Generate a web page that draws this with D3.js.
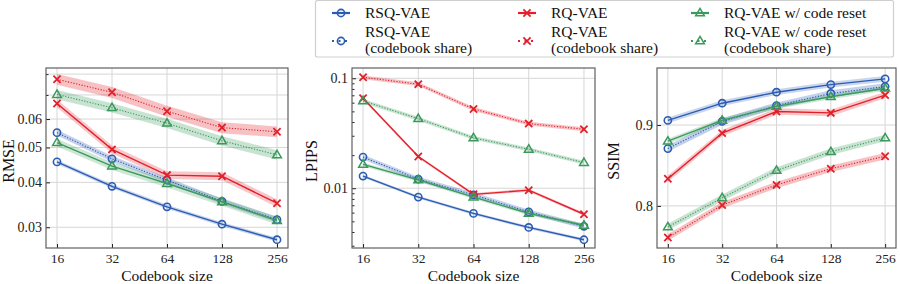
<!DOCTYPE html>
<html>
<head>
<meta charset="utf-8">
<script src="https://cdn.jsdelivr.net/npm/d3@7"></script>
<style>
  body { margin: 0; background: #fff; }
  text { font-family: "Liberation Serif", "Times New Roman", Times, "DejaVu Serif", serif; }
</style>
</head>
<body>
<svg id="chart" width="900" height="284"></svg>
<script>
// codebook sizes (x axis)
let sizes = [16, 32, 64, 128, 256];

// RMSE
let rmseRsq       = [0.0456, 0.0390, 0.0342, 0.0306, 0.0277];
let rmseRsqShare  = [0.0550, 0.0465, 0.0406, 0.0354, 0.0315];
let rmseRq        = [0.0663, 0.0494, 0.0419, 0.0416, 0.0350];
let rmseRqShare   = [0.0774, 0.0712, 0.0631, 0.0568, 0.0553];
let rmseReset     = [0.0516, 0.0444, 0.0397, 0.0353, 0.0313];
let rmseResetShare= [0.0702, 0.0645, 0.0584, 0.0522, 0.0477];
let rmseSpread    = [0.013, 0.018, 0.025, 0.035, 0.025, 0.03];   // relative

// LPIPS
let lpipsRsq       = [0.0129, 0.0083, 0.0059, 0.0044, 0.0034];
let lpipsRsqShare  = [0.0192, 0.0121, 0.0087, 0.0061, 0.0045];
let lpipsRq        = [0.0657, 0.0194, 0.0088, 0.0096, 0.0058];
let lpipsRqShare   = [0.1020, 0.0884, 0.0526, 0.0387, 0.0344];
let lpipsReset     = [0.0165, 0.0119, 0.0083, 0.0059, 0.0046];
let lpipsResetShare= [0.0622, 0.0429, 0.0287, 0.0226, 0.0171];
let lpipsSpread    = [0.03, 0.05, 0.03, 0.04, 0.04, 0.04];      // relative

// SSIM
let ssimRsq       = [0.9057, 0.9270, 0.9406, 0.9500, 0.9570];
let ssimRsqShare  = [0.8709, 0.9044, 0.9240, 0.9390, 0.9475];
let ssimRq        = [0.8336, 0.8900, 0.9167, 0.9150, 0.9370];
let ssimRqShare   = [0.7610, 0.8010, 0.8260, 0.8460, 0.8614];
let ssimReset     = [0.8800, 0.9057, 0.9230, 0.9350, 0.9455];
let ssimResetShare= [0.7740, 0.8100, 0.8438, 0.8670, 0.8840];
let ssimSpread    = [0.0035, 0.004, 0.004, 0.004, 0.003, 0.004]; // absolute

// tick labels
let rmseTicks = [0.03, 0.04, 0.05, 0.06];
let rmseMinor = [0.07, 0.08];
let lpipsTicks = [0.01, 0.1];
let lpipsMinor = [0.003, 0.004, 0.005, 0.006, 0.007, 0.008, 0.009,
  0.02, 0.03, 0.04, 0.05, 0.06, 0.07, 0.08, 0.09];
let ssimTicks = [0.8, 0.9];

let colors = ["#2a5bb5", "#2a5bb5", "#e3202a", "#e3202a", "#3a9a5b", "#3a9a5b"];
let markers = ["circle", "circle", "cross", "cross", "triangle", "triangle"];
let dotted = [false, true, false, true, false, true];

let svg = d3.select("#chart");
let plotTop = 68, h = 180;
let serif = '"Liberation Serif", "Times New Roman", Times, "DejaVu Serif", serif';

let panels = [
  { left: 46, width: 242, label: "RMSE", labelOff: 32, type: "log",
    data: [rmseRsq, rmseRsqShare, rmseRq, rmseRqShare, rmseReset, rmseResetShare],
    spread: rmseSpread, domain: [0.02627, 0.0832], ticks: rmseTicks, minor: rmseMinor,
    grid: rmseTicks.concat(rmseMinor), fmt: d3.format(".2f") },
  { left: 352, width: 243, label: "LPIPS", labelOff: 35, type: "log",
    data: [lpipsRsq, lpipsRsqShare, lpipsRq, lpipsRqShare, lpipsReset, lpipsResetShare],
    spread: lpipsSpread, domain: [0.00286, 0.124], ticks: lpipsTicks, minor: lpipsMinor,
    grid: lpipsTicks, fmt: d => d == 0.1 ? "0.1" : "0.01" },
  { left: 657, width: 239, label: "SSIM", labelOff: 38, type: "lin",
    data: [ssimRsq, ssimRsqShare, ssimRq, ssimRqShare, ssimReset, ssimResetShare],
    spread: ssimSpread, domain: [0.748, 0.9705], ticks: ssimTicks, minor: [],
    grid: ssimTicks, fmt: d3.format(".1f") }
];

function drawMarker(g, kind, x, y, color) {
  if (kind == "circle") {
    g.append("circle").attr("cx", x).attr("cy", y).attr("r", 3.6)
      .attr("fill", "none").attr("stroke", color).attr("stroke-width", 1.6);
  } else if (kind == "cross") {
    let s = 3.6;
    g.append("path").attr("d", `M${x-s},${y-s}L${x+s},${y+s}M${x-s},${y+s}L${x+s},${y-s}`)
      .attr("stroke", color).attr("stroke-width", 1.8).attr("fill", "none");
  } else {
    let s = 4.6;
    g.append("path").attr("d", `M${x},${y-s}L${x+s*0.95},${y+s*0.62}L${x-s*0.95},${y+s*0.62}Z`)
      .attr("stroke", color).attr("stroke-width", 1.5).attr("fill", "none");
  }
}

panels.forEach(function(p) {
  let g = svg.append("g").attr("transform", "translate(" + p.left + "," + plotTop + ")");
  let w = p.width;

  let xScale = d3.scaleLog().base(2).domain([16 / Math.pow(2, 0.2), 256 * Math.pow(2, 0.2)]).range([0, w]);
  let yScale = (p.type == "log" ? d3.scaleLog() : d3.scaleLinear()).domain(p.domain).range([h, 0]);

  // grid
  g.append("g").selectAll("line").data(sizes).join("line")
    .attr("x1", d => xScale(d)).attr("x2", d => xScale(d)).attr("y1", 0).attr("y2", h)
    .attr("stroke", "#d6d6d6").attr("stroke-width", 1);
  g.append("g").selectAll("line").data(p.grid).join("line")
    .attr("y1", d => yScale(d)).attr("y2", d => yScale(d)).attr("x1", 0).attr("x2", w)
    .attr("stroke", "#d6d6d6").attr("stroke-width", 1);

  // bands
  let series = p.data.map((vals, i) => vals.map((v, j) => {
    let lo, hi;
    if (p.type == "log") { lo = v * (1 - p.spread[i]); hi = v * (1 + p.spread[i]); }
    else { lo = v - p.spread[i]; hi = v + p.spread[i]; }
    return { x: sizes[j], v: v, lo: lo, hi: hi };
  }));

  let area = d3.area().x(d => xScale(d.x)).y0(d => yScale(d.lo)).y1(d => yScale(d.hi));
  let line = d3.line().x(d => xScale(d.x)).y(d => yScale(d.v));

  series.forEach(function(s, i) {
    g.append("path").datum(s).attr("d", area)
      .attr("fill", colors[i]).attr("fill-opacity", dotted[i] ? 0.28 : 0.25);
  });
  series.forEach(function(s, i) {
    g.append("path").datum(s).attr("d", line).attr("fill", "none")
      .attr("stroke", colors[i])
      .attr("stroke-width", dotted[i] ? 1.1 : 1.4)
      .attr("stroke-dasharray", dotted[i] ? "1.2,1.6" : null);
    s.forEach(d => drawMarker(g, markers[i], xScale(d.x), yScale(d.v), colors[i]));
  });

  // axes
  let xAxis = d3.axisBottom(xScale).tickValues(sizes).tickFormat(d3.format("d"))
    .tickSize(-4).tickPadding(5);
  let xg = g.append("g").attr("transform", "translate(0," + h + ")").call(xAxis);
  xg.attr("font-family", serif);
  xg.select(".domain").remove();
  xg.selectAll("text").attr("font-size", 13.5).attr("fill", "#222");
  xg.selectAll("line").attr("stroke", "#222");

  let yAxis = d3.axisLeft(yScale).tickValues(p.ticks).tickFormat(p.fmt).tickSize(-4).tickPadding(4);
  let yg = g.append("g").call(yAxis);
  yg.attr("font-family", serif);
  yg.select(".domain").remove();
  yg.selectAll("text").attr("font-size", 14).attr("fill", "#222");
  yg.selectAll("line").attr("stroke", "#222");

  if (p.minor.length) {
    let ym = g.append("g").call(d3.axisLeft(yScale).tickValues(p.minor).tickFormat("").tickSize(-2.5));
    ym.select(".domain").remove();
    ym.selectAll("line").attr("stroke", "#222");
  }

  // frame
  g.append("rect").attr("width", w).attr("height", h)
    .attr("fill", "none").attr("stroke", "#606060").attr("stroke-width", 1.2);

  // labels
  g.append("text").attr("x", w / 2).attr("y", h + 33).attr("text-anchor", "middle")
    .attr("font-family", serif).attr("font-size", 15.5).attr("fill", "#111").text("Codebook size");
  g.append("text").attr("transform", "translate(" + (-p.labelOff) + "," + (h / 2 + 3) + ") rotate(-90)")
    .attr("text-anchor", "middle").attr("font-family", serif).attr("font-size", 16)
    .attr("fill", "#111").text(p.label);
});

// legend
let legend = svg.append("g").attr("font-family", serif);
legend.append("rect").attr("x", 315.5).attr("y", 0.5).attr("width", 578).attr("height", 56.5)
  .attr("rx", 2).attr("fill", "#fff").attr("stroke", "#cfcfcf").attr("stroke-width", 1.2);

let legendCols = [332, 518, 691];
let legendItems = [
  { col: 0, row: 0, i: 0, lines: ["RSQ-VAE"] },
  { col: 0, row: 1, i: 1, lines: ["RSQ-VAE", "(codebook share)"] },
  { col: 1, row: 0, i: 2, lines: ["RQ-VAE"] },
  { col: 1, row: 1, i: 3, lines: ["RQ-VAE", "(codebook share)"] },
  { col: 2, row: 0, i: 4, lines: ["RQ-VAE w/ code reset"] },
  { col: 2, row: 1, i: 5, lines: ["RQ-VAE w/ code reset", "(codebook share)"] }
];
legendItems.forEach(function(it) {
  let x0 = legendCols[it.col];
  let cy = it.row == 0 ? 13 : 41;
  let i = it.i;
  legend.append("line").attr("x1", x0).attr("x2", x0 + 18).attr("y1", cy).attr("y2", cy)
    .attr("stroke", colors[i]).attr("stroke-width", dotted[i] ? 2 : 2.2)
    .attr("stroke-dasharray", dotted[i] ? "2,4.5" : null);
  drawMarker(legend, markers[i], x0 + 9, cy, colors[i]);
  it.lines.forEach(function(t, k) {
    let by = it.lines.length == 1 ? cy + 5 : (k == 0 ? 37 : 53);
    legend.append("text").attr("x", x0 + 33).attr("y", by).attr("font-size", 15.5)
      .attr("fill", "#111").text(t);
  });
});
</script>
</body>
</html>
